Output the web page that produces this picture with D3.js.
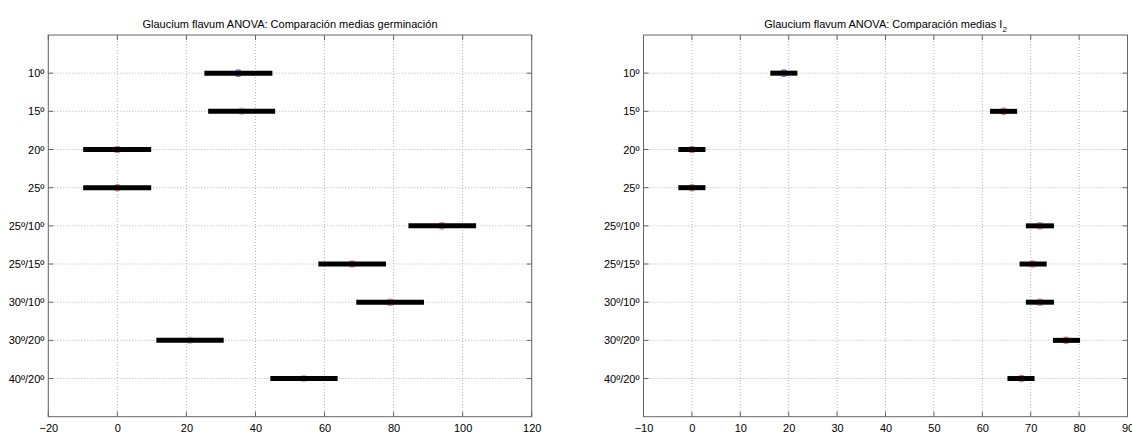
<!DOCTYPE html>
<html>
<head>
<meta charset="utf-8">
<script src="https://cdn.jsdelivr.net/npm/d3@7"></script>
<style>
  html, body { margin: 0; padding: 0; background: #fff; }
  svg { display: block; font-family: "Liberation Sans", Arial, sans-serif; }
</style>
</head>
<body>
<svg id="chart" width="1132" height="433"></svg>
<script>
// ---- Data ----
const categories = ["10º", "15º", "20º", "25º", "25º/10º", "25º/15º", "30º/10º", "30º/20º", "40º/20º"];

const germMean = [35, 36, 0, 0, 94, 68, 79, 21, 54];
const germLow  = [25.2, 26.3, -9.9, -9.9, 84.3, 58.2, 69.2, 11.3, 44.3];
const germHigh = [44.9, 45.7, 9.8, 9.8, 103.9, 77.8, 88.8, 30.8, 63.8];
const germStatus = ["sel", "ns", "sig", "sig", "sig", "sig", "sig", "ns", "ns"];
const germTicks = [-20, 0, 20, 40, 60, 80, 100, 120];

const i2Mean = [19, 64.4, 0, 0, 71.9, 70.4, 71.9, 77.3, 68.1];
const i2Low  = [16.2, 61.6, -2.8, -2.8, 69.0, 67.7, 69.0, 74.6, 65.2];
const i2High = [21.8, 67.2, 2.8, 2.8, 74.8, 73.3, 74.8, 80.2, 70.8];
const i2Status = ["sel", "sig", "sig", "sig", "sig", "sig", "sig", "sig", "sig"];
const i2Ticks = [-10, 0, 10, 20, 30, 40, 50, 60, 70, 80, 90];

const markerColor = { sel: "#6a6ad2", sig: "#e07a7a", ns: "#c4c4c4" };

const svg = d3.select("#chart");
const plotTop = 35, plotBottom = 416.7;

function panel(opts) {
  const x = d3.scaleLinear().domain(opts.domain).range([opts.left, opts.right]);
  const y = d3.scaleLinear().domain([0, categories.length + 1]).range([plotTop, plotBottom]);
  const g = svg.append("g");

  // grid
  g.selectAll(".gx").data(opts.ticks).enter().append("line")
    .attr("x1", d => x(d)).attr("x2", d => x(d))
    .attr("y1", plotTop).attr("y2", plotBottom)
    .attr("stroke", "#b4b4b4").attr("stroke-width", 1)
    .attr("stroke-dasharray", "1,2");
  g.selectAll(".gy").data(categories).enter().append("line")
    .attr("x1", opts.left).attr("x2", opts.right)
    .attr("y1", (d, i) => y(i + 1)).attr("y2", (d, i) => y(i + 1))
    .attr("stroke", "#b4b4b4").attr("stroke-width", 1)
    .attr("stroke-dasharray", "1,2");

  // axes
  const ax = d3.axisBottom(x).tickValues(opts.ticks).tickSize(0).tickPadding(0).tickFormat(d3.format("d"));
  const gb = g.append("g").attr("transform", `translate(0,${plotBottom})`).call(ax);
  gb.select(".domain").remove();
  gb.selectAll("text").attr("y", 15).attr("dy", 0).attr("font-size", 11)
    .attr("fill", "#000").attr("font-family", '"Liberation Sans", Arial, sans-serif');

  const ay = d3.axisLeft(y).tickValues(d3.range(1, categories.length + 1))
    .tickFormat(i => categories[i - 1]).tickSize(0).tickPadding(4);
  const gl = g.append("g").attr("transform", `translate(${opts.left},0)`).call(ay);
  gl.select(".domain").remove();
  gl.selectAll("text").attr("font-size", 11).attr("fill", "#000")
    .attr("font-family", '"Liberation Sans", Arial, sans-serif');

  const tickLen = 5, axCol = "#666";
  opts.ticks.forEach(t => {
    g.append("line").attr("x1", x(t)).attr("x2", x(t)).attr("y1", plotBottom).attr("y2", plotBottom - tickLen).attr("stroke", axCol);
    g.append("line").attr("x1", x(t)).attr("x2", x(t)).attr("y1", plotTop).attr("y2", plotTop + tickLen).attr("stroke", axCol);
  });
  categories.forEach((c, i) => {
    g.append("line").attr("x1", opts.left).attr("x2", opts.left + tickLen).attr("y1", y(i + 1)).attr("y2", y(i + 1)).attr("stroke", axCol);
    g.append("line").attr("x1", opts.right).attr("x2", opts.right - tickLen).attr("y1", y(i + 1)).attr("y2", y(i + 1)).attr("stroke", axCol);
  });

  g.append("rect").attr("x", opts.left).attr("y", plotTop)
    .attr("width", opts.right - opts.left).attr("height", plotBottom - plotTop)
    .attr("fill", "none").attr("stroke", axCol).attr("stroke-width", 1);

  // mean markers (drawn beneath the interval bars)
  g.selectAll(".mk").data(categories).enter().append("circle")
    .attr("cx", (d, i) => x(opts.mean[i])).attr("cy", (d, i) => y(i + 1))
    .attr("r", 3.2).attr("fill", "none")
    .attr("stroke", (d, i) => markerColor[opts.status[i]]).attr("stroke-width", 1.2);

  // interval bars
  g.selectAll(".bar").data(categories).enter().append("line")
    .attr("x1", (d, i) => x(opts.low[i])).attr("x2", (d, i) => x(opts.high[i]))
    .attr("y1", (d, i) => y(i + 1)).attr("y2", (d, i) => y(i + 1))
    .attr("stroke", "#000").attr("stroke-width", 5);

  // title
  const t = g.append("text").attr("x", (opts.left + opts.right) / 2).attr("y", 28)
    .attr("text-anchor", "middle").attr("font-size", 11).attr("fill", "#000");
  t.append("tspan").text(opts.title);
  if (opts.sub) {
    t.append("tspan").attr("font-size", 8).attr("dy", 4).text(opts.sub);
  }
}

panel({
  left: 48.3, right: 531.7, domain: [-20, 120], ticks: germTicks,
  mean: germMean, low: germLow, high: germHigh, status: germStatus,
  title: "Glaucium flavum ANOVA: Comparación medias germinación"
});
panel({
  left: 643.5, right: 1127.5, domain: [-10, 90], ticks: i2Ticks,
  mean: i2Mean, low: i2Low, high: i2High, status: i2Status,
  title: "Glaucium flavum ANOVA: Comparación medias I", sub: "2"
});
</script>
</body>
</html>
